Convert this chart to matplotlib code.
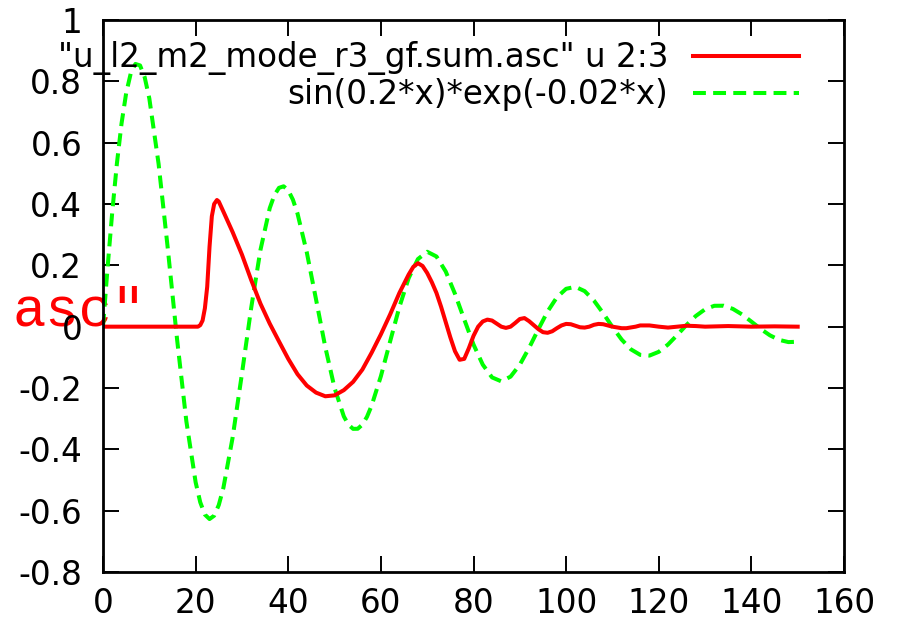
import matplotlib
matplotlib.use("Agg")
import matplotlib.pyplot as plt
from matplotlib.lines import Line2D

# ---- data ----
red_x = [0, 5, 10, 15, 20, 20.5, 21, 21.5, 22, 22.5, 23, 23.5, 24, 24.6, 25, 26, 28, 30, 32,
         34, 36, 38, 40, 42, 44, 46, 48, 50, 52, 54, 56, 58, 60, 62, 64, 66, 67, 68, 69,
         70, 71, 72, 73, 74, 75, 76, 77, 78, 79, 80, 81, 82, 83, 84, 85, 86, 87, 88, 89,
         90, 91, 92, 93, 94, 95, 96, 97, 98, 99, 100, 101, 102, 103, 104, 105, 106, 107,
         108, 110, 112, 113, 115, 116, 118, 120, 122, 124, 126, 128, 130, 135, 140, 145, 150]
red_y = [0, 0, 0, 0, 0, 0.0, 0.005, 0.02, 0.06, 0.13, 0.26, 0.36, 0.40, 0.413, 0.408, 0.375,
         0.308, 0.235, 0.152, 0.075, 0.01, -0.048, -0.105, -0.155, -0.192, -0.215, -0.227,
         -0.224, -0.207, -0.18, -0.14, -0.085, -0.025, 0.04, 0.11, 0.17, 0.195, 0.207, 0.198,
         0.175, 0.145, 0.11, 0.065, 0.015, -0.035, -0.08, -0.108, -0.105, -0.07, -0.03, 0.0,
         0.017, 0.023, 0.02, 0.01, 0.0, -0.004, 0.0, 0.012, 0.025, 0.028, 0.018, 0.005, -0.008,
         -0.018, -0.02, -0.015, -0.005, 0.004, 0.009, 0.008, 0.003, -0.002, -0.003, 0.0, 0.006,
         0.009, 0.008, 0.0, -0.005, -0.005, 0.0, 0.004, 0.004, 0.0, -0.003, 0.0, 0.003, 0.002,
         0.0, 0.002, 0.0, 0.001, 0.0]

green_x = [0, 1, 2, 3, 4, 5, 6, 7, 8, 9, 10, 12, 14, 16, 18, 20, 21, 22, 23, 24, 25, 26, 28,
           30, 32, 34, 36, 37, 38, 39, 40, 41, 42, 44, 46, 48, 50, 52, 53, 54, 55, 56, 57, 58,
           60, 62, 64, 66, 68, 70, 72, 74, 76, 78, 80, 82, 84, 86, 88, 90, 92, 94, 96, 98,
           100, 102, 104, 106, 108, 110, 112, 114, 116, 118, 120, 122, 124, 126, 128, 130,
           132, 134, 136, 138, 140, 142, 144, 146, 148, 150]
green_y = [0.0, 0.1947, 0.3742, 0.5318, 0.6622, 0.7614, 0.8266, 0.8567, 0.8518, 0.8134,
           0.7444, 0.5313, 0.2532, -0.0424, -0.3087, -0.5073, -0.5727, -0.6128, -0.6273,
           -0.6164, -0.5816, -0.5253, -0.3606, -0.1533, 0.0614, 0.2503, 0.3864, 0.4288,
           0.4527, 0.4577, 0.4445, 0.4143, 0.3689, 0.2426, 0.0888, -0.0667, -0.2001, -0.2926,
           -0.3197, -0.3332, -0.3329, -0.3195, -0.2940, -0.2576, -0.1616, -0.0479, 0.0644,
           0.1582, 0.2205, 0.2443, 0.2289, 0.1800, 0.1072, 0.0236, -0.0581, -0.1238, -0.1654,
           -0.1783, -0.1630, -0.1241, -0.0693, -0.0085, 0.0496, 0.0956, 0.1235, 0.1299,
           0.1159, 0.0852, 0.0438, -0.0010, -0.0422, -0.0740, -0.0920, -0.0943, -0.0821,
           -0.0582, -0.0270, 0.0057, 0.0348, 0.0567, 0.0681, 0.0683, 0.0580, 0.0397, 0.0165,
           -0.0073, -0.0282, -0.0431, -0.0503, -0.0492]

x_ticks = [0, 20, 40, 60, 80, 100, 120, 140, 160]
x_tick_labels = ["0", "20", "40", "60", "80", "100", "120", "140", "160"]
y_ticks = [-0.8, -0.6, -0.4, -0.2, 0, 0.2, 0.4, 0.6, 0.8, 1]
y_tick_labels = ["-0.8", "-0.6", "-0.4", "-0.2", "0", "0.2", "0.4", "0.6", "0.8", "1"]

label_red = '"u_l2_m2_mode_r3_gf.sum.asc" u 2:3'
label_green = 'sin(0.2*x)*exp(-0.02*x)'
stray_label = 'asc"'

# ---- figure ----
W, H = 897, 624
fig = plt.figure(figsize=(W / 100, H / 100), dpi=100)
plt.rcParams['font.family'] = ['DejaVu Sans']
FS = 23.5

def fx(px):
    return px / W

def fy(py):
    return 1 - py / H

ax = fig.add_axes([fx(103), fy(572), fx(844) - fx(103), fy(20) - fy(572)])
ax.set_facecolor('none')

red_col = '#ff0000'
green_col = '#00ff00'
dash = (0, (3.2, 1.8))

ax.plot(red_x, red_y, color=red_col, lw=2.9, solid_joinstyle='round', zorder=3)
ax.plot(green_x, green_y, color=green_col, lw=2.9, linestyle=dash, zorder=2)

ax.set_xlim(0, 160)
ax.set_ylim(-0.8, 1)
ax.set_xticks(x_ticks)
ax.set_xticklabels(x_tick_labels)
ax.set_yticks(y_ticks)
ax.set_yticklabels(y_tick_labels)
ax.tick_params(direction='in', length=11.5, width=1.4, labelsize=FS,
               top=True, right=True, colors='black')
ax.tick_params(axis='y', pad=15)
ax.tick_params(axis='x', pad=11)
for sp in ax.spines.values():
    sp.set_linewidth(2.0)
    sp.set_zorder(5)

# legend (gnuplot style: text right-aligned, sample line to the right)
fig.text(fx(668), fy(67), label_red, ha='right', va='baseline', fontsize=FS)
fig.text(fx(668), fy(104), label_green, ha='right', va='baseline', fontsize=FS)
fig.add_artist(Line2D([fx(693), fx(799)], [fy(56), fy(56)], color=red_col, lw=2.9))
fig.add_artist(Line2D([fx(693), fx(799)], [fy(93), fy(93)], color=green_col, lw=2.9,
                      linestyle=dash))

# stray red label at the left edge
fig.text(fx(12), fy(325), stray_label, ha='left', va='baseline', fontsize=40,
         family=['Liberation Mono', 'DejaVu Sans Mono'], color=red_col, zorder=-1)

fig.savefig('out.png', dpi=100)
